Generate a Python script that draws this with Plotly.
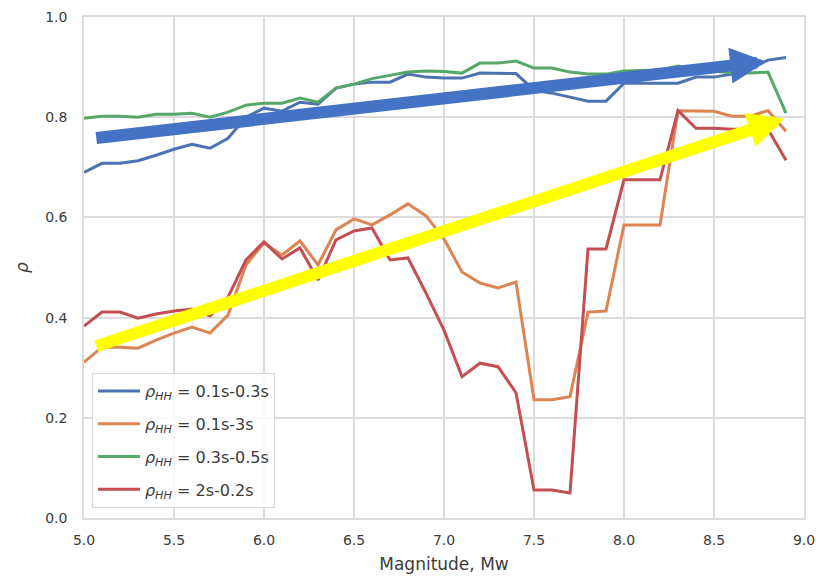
import plotly.graph_objects as go

# Earthquake magnitude bins
magnitude = [5.0, 5.1, 5.2, 5.3, 5.4, 5.5, 5.6, 5.7, 5.8, 5.9,
             6.0, 6.1, 6.2, 6.3, 6.4, 6.5, 6.6, 6.7, 6.8, 6.9,
             7.0, 7.1, 7.2, 7.3, 7.4, 7.5, 7.6, 7.7, 7.8, 7.9,
             8.0, 8.1, 8.2, 8.3, 8.4, 8.5, 8.6, 8.7, 8.8, 8.9]

# Correlation coefficients for each period pair
rho_01_03 = [0.690, 0.708, 0.708, 0.713, 0.724, 0.736, 0.746, 0.738, 0.758, 0.800,
             0.818, 0.812, 0.830, 0.826, 0.858, 0.866, 0.870, 0.870, 0.886, 0.880,
             0.878, 0.878, 0.888, 0.888, 0.887, 0.854, 0.848, 0.840, 0.832, 0.832,
             0.868, 0.868, 0.868, 0.868, 0.880, 0.880, 0.886, 0.896, 0.914, 0.919]

rho_01_3 = [0.311, 0.341, 0.341, 0.339, 0.355, 0.369, 0.381, 0.369, 0.405, 0.505,
            0.549, 0.525, 0.553, 0.505, 0.575, 0.597, 0.585, 0.605, 0.627, 0.603,
            0.557, 0.491, 0.469, 0.459, 0.471, 0.236, 0.236, 0.242, 0.411, 0.413,
            0.585, 0.585, 0.585, 0.813, 0.812, 0.812, 0.802, 0.802, 0.813, 0.772]

rho_03_05 = [0.798, 0.802, 0.802, 0.800, 0.806, 0.806, 0.808, 0.800, 0.810, 0.824,
             0.828, 0.828, 0.838, 0.830, 0.858, 0.866, 0.877, 0.884, 0.890, 0.892,
             0.891, 0.888, 0.908, 0.908, 0.912, 0.898, 0.898, 0.890, 0.886, 0.886,
             0.892, 0.893, 0.894, 0.902, 0.896, 0.892, 0.888, 0.888, 0.890, 0.808]

rho_2_02 = [0.383, 0.411, 0.411, 0.399, 0.407, 0.413, 0.417, 0.403, 0.441, 0.515,
            0.551, 0.517, 0.539, 0.475, 0.555, 0.573, 0.579, 0.515, 0.519, 0.449,
            0.375, 0.282, 0.309, 0.302, 0.250, 0.056, 0.056, 0.050, 0.537, 0.537,
            0.675, 0.675, 0.675, 0.813, 0.778, 0.778, 0.776, 0.776, 0.776, 0.714]

series_labels = ["0.1s-0.3s", "0.1s-3s", "0.3s-0.5s", "2s-0.2s"]
series_values = [rho_01_03, rho_01_3, rho_03_05, rho_2_02]
series_colors = ["#4C72B0", "#DD8452", "#55A868", "#C44E52"]

# Trend arrows: (tail x, tail y, head x, head y)
trend_blue = (5.06, 0.758, 8.79, 0.911)
trend_yellow = (5.06, 0.342, 8.89, 0.797)

fig = go.Figure()
for i, (lab, vals, col) in enumerate(zip(series_labels, series_values, series_colors)):
    fig.add_trace(go.Scatter(
        x=magnitude, y=vals, mode="lines",
        line=dict(color=col, width=3),
        name="<i>ρ</i><sub><i>HH</i></sub> = " + lab,
        legendgroup=f"g{i}",
    ))

for (x0, y0, x1, y1), col in [(trend_blue, "#4472C4"), (trend_yellow, "#FFFF00")]:
    fig.add_annotation(
        x=x1, y=y1, ax=x0, ay=y0,
        xref="x", yref="y", axref="x", ayref="y",
        text="", showarrow=True,
        arrowhead=2, arrowsize=0.6, arrowwidth=12, arrowcolor=col,
        standoff=0,
    )

grid_col = "#dcdcdc"
fig.update_layout(
    width=816, height=577,
    margin=dict(l=84, r=12, t=17, b=59),
    paper_bgcolor="white", plot_bgcolor="white",
    font=dict(family="DejaVu Sans", size=14, color="#3b3b3b"),
    showlegend=True,
    legend=dict(
        x=0.011, y=0.02, xanchor="left", yanchor="bottom",
        bgcolor="rgba(255,255,255,0.85)", bordercolor="#d8d8d8", borderwidth=1,
        font=dict(size=16, color="#3b3b3b"),
        tracegroupgap=9, traceorder="grouped", itemwidth=42,
    ),
    xaxis=dict(
        range=[5.0, 9.0], dtick=0.5, tickformat=".1f", automargin=False,
        showgrid=True, gridcolor=grid_col, gridwidth=1.5,
        showline=True, linecolor=grid_col, linewidth=1.5, mirror=True,
        zeroline=False, ticks="", ticklabelstandoff=8,
        tickfont=dict(size=14),
        title=dict(text="Magnitude, Mw", font=dict(size=17), standoff=12),
    ),
    yaxis=dict(
        range=[0.0, 1.0], dtick=0.2, tickformat=".1f", automargin=False,
        showgrid=True, gridcolor=grid_col, gridwidth=1.5,
        showline=True, linecolor=grid_col, linewidth=1.5, mirror=True,
        zeroline=False, ticks="", ticklabelstandoff=12,
        tickfont=dict(size=14),
        title=dict(text="<i>ρ</i>", font=dict(size=17), standoff=12),
    ),
)

fig.write_html("out.html")
